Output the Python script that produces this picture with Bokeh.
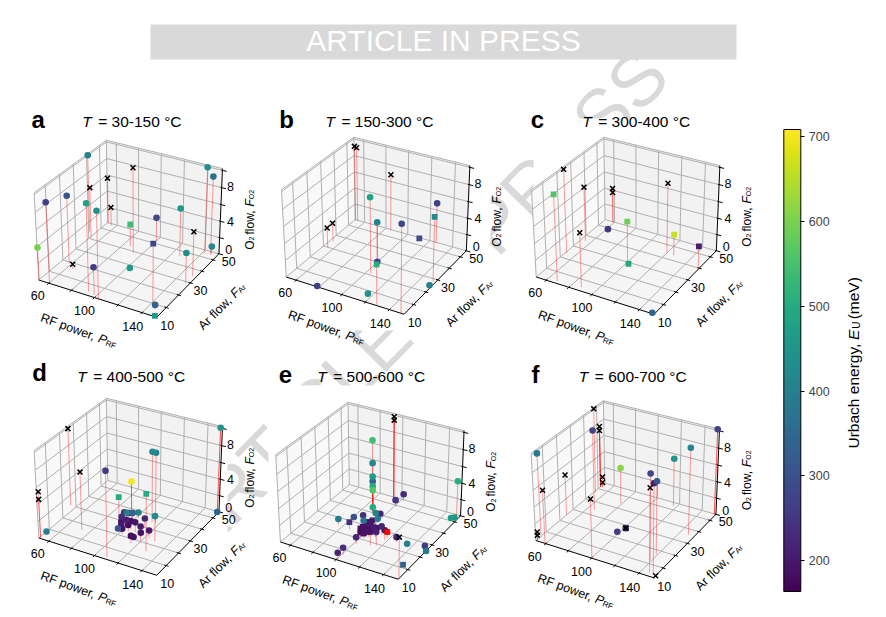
import numpy as np
from bokeh.plotting import figure
from bokeh.embed import file_html
from bokeh.resources import INLINE
from bokeh.models import Range1d, LinearColorMapper, ColorBar, FixedTicker, ColumnDataSource
from bokeh.palettes import Viridis256
from bokeh.core.properties import value
from bokeh.transform import transform

# ---------- data: RF power, Ar flow, O2 flow, Urbach energy, kind (o/s/x/r) ----------
a_power = [46,52,56,93,86,60,52,58,52,92,104,65,98,102,142,100,127,149,149,142,147,147,146,150]
a_ar    = [45,55,54,39,43,3,2,19,41,5,2,16,4,28,9,52,46,29,35,53,53,54,7,3]
a_o2    = [9.4,5.7,2.3,10.2,2.7,9.4,4.0,8.1,6.2,10.2,10.2,0.6,3.3,0.0,7.1,2.9,5.8,3.6,5.3,10.3,9.4,0.9,0.5,0.0]
a_eu    = [400,None,None,None,540,270,600,310,None,480,440,None,260,470,280,280,450,430,None,440,370,420,340,460]
a_kind  = list("oxxxsoooxooxoosoooxoooos")

b_power = [52,54,85,55,54,104,101,101,129,150,111,126,150,150,116,78]
b_ar    = [55,55,55,30,35,21,29,29,3,2,55,55,28,25,8,3]
b_o2    = [9.2,9.1,6.9,2.4,2.3,9.0,5.0,0.2,4.7,10.2,0.0,4.9,7.6,0.0,0.0,0.0]
b_eu    = [None,None,None,None,None,480,410,270,510,280,290,270,420,400,440,270]
b_kind  = list("xxxxxooosososooo")

c_power = [52,68,55,88,59,59,61,100,102,120,126,152,150]
c_ar    = [24,4,36,5,55,55,49,30,29,44,44,39,3]
c_o2    = [10.0,10.1,6.6,6.4,4.3,3.8,0.0,4.9,0.0,8.4,2.5,2.8,0.0]
c_eu    = [None,560,None,None,None,None,250,590,490,None,660,210,340]
c_kind  = list("xsxxxxossxsso")

d_power = [46,73,52,52,51,109,97,89,130,114,117,151,151,129,113,120,123,117,115,114,96,102,94,98,97,96,99,99,101,105,110,100,105,103]
d_ar    = [30,16,3,3,8,4,34,31,15,35,35,55,55,23,30,20,24,23,17,20,24,35,33,34,26,29,30,24,26,26,25,23,24,21]
d_o2    = [9.3,6.9,5.5,4.6,0.0,9.9,4.4,2.6,6.7,8.4,8.4,10.1,0.0,3.0,1.1,1.8,0.9,0.5,0.9,0.3,0.0,0.7,0.6,0.6,1.2,1.3,1.2,1.0,1.0,1.0,1.2,0.8,0.8,0.7]
d_eu    = [None,None,None,None,400,260,700,500,500,420,410,450,340,420,220,200,200,190,180,190,310,400,400,330,230,250,200,190,210,185,195,200,180,190]
d_kind  = list("xxxxooossooooooooooooooooooooooooo")

e_power = [93,93,89,89,89,89,89,89,89,102,101,149,147,149,76,83,87,88,94,96,99,101,102,101,101,118,127,152,135,148,152,146,100,102,103,104,104,105,106,112,116,118,110,112,110,99,101,102,100,104,106,103]
e_ar    = [55,55,41,41,41,41,41,41,41,55,49,55,52,53,25,31,24,34,29,37,38,34,16,7,3,26,25,3,26,28,25,12,23,22,21,24,27,23,26,18,19,24,25,27,24,22,24,25,21,25,24,23]
e_o2    = [9.9,9.5,8.6,5.9,4.3,3.7,3.1,2.6,0.5,0.8,0.8,4.2,0.0,0.0,0.7,0.4,0.9,0.4,0.7,0.6,0.5,0.5,0.8,0.8,0.8,0.7,0.6,4.8,0.0,0.0,0.0,0.0,1.0,0.8,0.6,1.4,1.4,0.6,0.8,1.6,1.6,1.2,1.0,1.0,0.8,0.9,1.2,1.4,0.6,1.0,1.2,0.9]
e_eu    = [None,None,540,420,470,340,500,560,500,230,250,510,470,460,390,300,240,240,380,400,220,390,220,240,220,None,220,None,400,260,390,340,190,185,190,200,200,195,205,190,210,200,185,220,190,185,185,190,180,185,190,180]
e_kind  = list("xxoooooooooooooosoooooooorox" "ooos" "ssssssssooooo" "sssssss")

f_power = [52,66,51,51,50,60,52,52,51,53,53,101,79,139,149,139,146,152,117,147,151,98,101,101,101]
f_ar    = [47,34,52,52,7,2,3,3,25,52,52,2,44,12,5,17,5,4,53,36,55,24,28,28,28]
f_o2    = [10.2,9.6,7.5,7.0,9.6,6.4,1.0,0.6,4.9,1.3,0.6,7.0,4.4,10.0,10.2,8.5,9.6,0.0,5.8,10.2,10.2,0.0,0.0,0.0,0.0]
f_eu    = [None,280,None,None,390,None,None,None,None,None,None,None,610,280,210,310,None,None,450,420,270,260,None,None,240]
f_kind  = list("xoxxoxxxxxxxooooxxooooxxo")

x_ticks = [60,80,100,120,140]
y_ticks = [10,20,30,40,50]
z_ticks = [0,2,4,6,8,10]
x_tick_labels = ["60","100","140"]
y_tick_labels = ["10","30","50"]
z_tick_labels = ["0","4","8"]
cbar_ticks = [200,300,400,500,600,700]
eu_low, eu_high = 163.4, 708.7
letters = ["a","b","c","d","e","f"]
ranges = ["30-150","150-300","300-400","400-500","500-600","600-700"]

panels = [
    (a_power,a_ar,a_o2,a_eu,a_kind),(b_power,b_ar,b_o2,b_eu,b_kind),(c_power,c_ar,c_o2,c_eu,c_kind),
    (d_power,d_ar,d_o2,d_eu,d_kind),(e_power,e_ar,e_o2,e_eu,e_kind),(f_power,f_ar,f_o2,f_eu,f_kind)]

# ---------- 3D projection (elev 30, azim -60, box 4:4:3) ----------
X0,X1 = 51.,152.; Y0,Y1 = 2.5,55.5; Z0,Z1 = 0.,10.2
ba = np.array([4,4,3.])*1.8294640721620434*25/24/np.linalg.norm([4,4,3.])
el,az = np.radians(30),np.radians(-60)
R_ = ba/2; E_ = R_+10*np.array([np.cos(el)*np.cos(az),np.cos(el)*np.sin(az),np.sin(el)])
w_ = (E_-R_)/np.linalg.norm(E_-R_); u_ = np.cross([0,0,1.],w_); u_/=np.linalg.norm(u_); v_ = np.cross(w_,u_)
def view(x,y,z):
    P = np.array([(x-X0)/(X1-X0),(y-Y0)/(Y1-Y0),(z-Z0)/(Z1-Z0)])*ba
    d = P-E_; s = -d.dot(w_); return d.dot(u_)/s,d.dot(v_)/s
cs = [(X0,Y0,Z0,38.3,280),(X1,Y0,Z0,156.7,316.7),(X1,Y1,Z0,218.3,255),(X0,Y1,Z0,106.7,223.3),(X0,Y1,Z1,106.7,140),(X1,Y1,Z1,221.7,168.3),(X0,Y0,Z1,33.3,193.3)]
A_ = np.array([(*view(*c[:3]),1) for c in cs])
kx = np.linalg.lstsq(A_,np.array([c[3] for c in cs]),rcond=None)[0]
ky = np.linalg.lstsq(A_,np.array([c[4] for c in cs]),rcond=None)[0]
def pix(x,y,z,dl):
    a,b = view(x,y,z); return kx@[a,b,1]+dl[0], ky@[a,b,1]+dl[1]-0.7

DELTA = [(0,0),(247.4,-3),(497.4,-3),(0,258),(241.6,262),(497.,260.5)]
HEAVY = [[],[6],[],[6,11],[0,1],[2,3,20]]
FONT = value("Liberation Sans")

p = figure(width=886,height=617,x_range=Range1d(0,886),y_range=Range1d(617,0),output_backend="svg",
           toolbar_location=None,min_border=0,outline_line_color=None)
p.axis.visible=False; p.grid.visible=False

def txt(x,y,s,size,angle=0,style="normal",color="black",align="left",base="alphabetic"):
    p.text([x],[y],text=[s],text_font=FONT,text_font_size=f"{size}px",text_font_style=style,text_color=color,
           angle=np.radians(angle),text_align=align,text_baseline=base)

# watermark, then the opaque figure patches it lies under
txt(417,303,"ARTICLE IN PRESS",74,angle=45.5,color="#d9d9d9",align="center",base="middle")
for l,r,t,b in [(0,235,100,350),(268,490,118,330),(533,778,118,350),(0,227,388,617),(268,520,385,617),(520,778,370,617)]:
    p.quad(left=[l],right=[r],top=[t],bottom=[b],fill_color="white",line_color=None)
# banner
p.quad(left=[150],right=[736],top=[24],bottom=[59],fill_color="#d9d9d9",line_color=None)
txt(443,40,"ARTICLE IN PRESS",30,color="white",align="center",base="middle")

mapper = LinearColorMapper(palette=Viridis256,low=eu_low,high=eu_high)

def run_label(sx,sy,angle,pieces):
    """pieces: (text, advance in em, size, style, drop)"""
    th = np.radians(angle); d = 0
    for s,wd,size,style,drop in pieces:
        px = sx+d*np.cos(th)+drop*np.sin(th); py = sy-d*np.sin(th)+drop*np.cos(th)
        txt(px,py,s,size,angle=angle,style=style)
        d += wd*size

for i,(pw,ar,o2,eu,kind) in enumerate(panels):
    dl = DELTA[i]
    P = lambda x,y,z: pix(x,y,z,dl)
    def poly(pts,color):
        xy = [P(*q) for q in pts]
        p.patch([q[0] for q in xy],[q[1] for q in xy],fill_color=color,line_color=color,line_width=0.5)
    poly([(X0,Y0,Z0),(X0,Y1,Z0),(X0,Y1,Z1),(X0,Y0,Z1)],"#f9f9f9")
    poly([(X0,Y1,Z0),(X1,Y1,Z0),(X1,Y1,Z1),(X0,Y1,Z1)],"#f2f2f2")
    poly([(X0,Y0,Z0),(X1,Y0,Z0),(X1,Y1,Z0),(X0,Y1,Z0)],"#f5f5f5")
    segs = []
    for t in x_ticks:
        segs += [[(t,Y0,Z0),(t,Y1,Z0)],[(t,Y1,Z0),(t,Y1,Z1)]]
    for t in y_ticks:
        segs += [[(X0,t,Z0),(X1,t,Z0)],[(X0,t,Z0),(X0,t,Z1)]]
    for t in z_ticks:
        segs += [[(X0,Y0,t),(X0,Y1,t),(X1,Y1,t)]]
    segs += [[(X0,Y0,Z0),(X0,Y0,Z1),(X0,Y1,Z1),(X1,Y1,Z1)],[(X0,Y1,Z0),(X0,Y1,Z1)]]
    sx = [[P(*q)[0] for q in s] for s in segs]; sy = [[P(*q)[1] for q in s] for s in segs]
    p.multi_line(sx,sy,line_color="#b0b0b0",line_width=1)
    # axis lines and ticks
    segs = [[(X0,Y0,Z0),(X1,Y0,Z0),(X1,Y1,Z0),(X1,Y1,Z1)]]
    segs += [[(t,Y0+0.8,Z0),(t,Y0-1.2,Z0)] for t in x_ticks]
    segs += [[(X1-1.5,t,Z0),(X1+2,t,Z0)] for t in y_ticks]
    segs += [[(X1-1,Y1,t),(X1+3.5,Y1,t)] for t in z_ticks]
    sx = [[P(*q)[0] for q in s] for s in segs]; sy = [[P(*q)[1] for q in s] for s in segs]
    p.multi_line(sx,sy,line_color="black",line_width=1)
    # stems
    n = len(pw)
    tops = [P(pw[k],ar[k],o2[k]) for k in range(n)]; bots = [P(pw[k],ar[k],0) for k in range(n)]
    p.multi_line([[tops[k][0],bots[k][0]] for k in range(n)],[[tops[k][1],bots[k][1]] for k in range(n)],
                 line_color="red",line_alpha=0.38,line_width=1)
    if HEAVY[i]:
        h = HEAVY[i]
        p.multi_line([[tops[k][0],bots[k][0]] for k in h],[[tops[k][1],bots[k][1]] for k in h],
                     line_color="red",line_alpha=0.4,line_width=1)
    # markers: low energies first
    order = sorted([k for k in range(n) if kind[k] in "os"],key=lambda k:eu[k])
    for k in order:
        src = ColumnDataSource(dict(x=[tops[k][0]],y=[tops[k][1]],eu=[eu[k]]))
        if kind[k]=="o":
            p.scatter("x","y",source=src,marker="circle",size=6.6,fill_color=transform("eu",mapper),line_color=None)
        else:
            p.scatter("x","y",source=src,marker="square",size=5.8,fill_color=transform("eu",mapper),line_color=None)
    rd = [k for k in range(n) if kind[k]=="r"]
    if rd:
        p.scatter([tops[k][0] for k in rd],[tops[k][1] for k in rd],marker="square",size=5.8,fill_color="red",line_color=None)
    xs = [k for k in range(n) if kind[k]=="x"]
    if xs:
        p.scatter([tops[k][0] for k in xs],[tops[k][1] for k in xs],marker="x",size=7,line_color="black",line_width=1.5)
    # tick labels (anchors for panel a, shifted per panel)
    for s,(tx,ty) in zip(x_tick_labels,[(37.3,295),(84,310),(132.3,326.3)]):
        txt(tx+dl[0],ty+dl[1],s,12.5,align="center",base="middle")
    for s,(tx,ty) in zip(y_tick_labels,[(166.7,325),(200,290),(228.3,260.7)]):
        txt(tx+dl[0],ty+dl[1],s,12.5,align="center",base="middle")
    for s,(tx,ty) in zip(z_tick_labels,[(228.3,249),(230,221.3),(230,186.3)]):
        txt(tx+dl[0],ty+dl[1],s,12.5,align="center",base="middle")
    # axis labels
    run_label(40.7+dl[0],316.7+dl[1],-20,[("RF power, ",4.89,12.5,"normal",0),("P",.667,12.5,"italic",0),("RF",.87,8,"normal",2)])
    run_label(200+dl[0],327.2+dl[1],45,[("Ar flow, ",3.61,12.5,"normal",0),("F",.611,12.5,"italic",0),("Ar",.65,8,"normal",2)])
    run_label(249+dl[0],249.3+dl[1],90,[("O",.778,12,"normal",0),("2",.85,7,"normal",2),("flow, ",2.33,12,"normal",0),("F",.611,12,"italic",0),("O2",1.33,7,"normal",2)])

for s,(lx,ly) in zip(letters,[(37.7,118.5),(286,118.5),(537,118.5),(39,371.5),(285,373.5),(535,373.5)]):
    txt(lx,ly,s,24,style="bold",align="center",base="middle")
for s,(tx,ty) in zip(ranges,[(81.7,120.5),(325,120.5),(581.7,120.5),(76.7,376),(316.7,376),(578.3,376)]):
    txt(tx,ty,"T",15.5,style="italic")
    txt(tx+16,ty,f"= {s} °C",15.5)

cb = ColorBar(color_mapper=mapper,ticker=FixedTicker(ticks=cbar_ticks),location=(783.3,26),width=17,height=462,padding=0,
              bar_line_color="black",bar_line_width=1,major_tick_line_color="black",major_tick_in=0,major_tick_out=4,
              minor_tick_out=0,minor_tick_in=0,label_standoff=4,major_label_text_font="Liberation Sans",
              major_label_text_font_size="12.5px",background_fill_alpha=0,border_line_color=None)
p.add_layout(cb,"center")
run_label(853,448,90,[("Urbach energy, ",7.0,15.5,"normal",0),("E",.72,15.5,"italic",0),("U",.95,10,"normal",2.5),("(meV)",2.6,15.5,"normal",0)])

open("out.html","w").write(file_html(p,INLINE))
